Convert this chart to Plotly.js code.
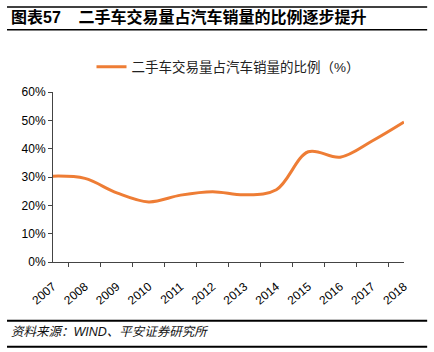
<!DOCTYPE html>
<html><head><meta charset="utf-8">
<script src="https://cdn.plot.ly/plotly-3.0.1.min.js"></script>
<style>html,body{margin:0;padding:0;background:#fff}#c{width:434px;height:352px}</style>
</head><body><div id="c"></div>
<script>
const years = ['2007','2008','2009','2010','2011','2012','2013','2014','2015','2016','2017','2018'];
const ratio = [30.3, 29.5, 24.4, 21.2, 23.6, 24.8, 23.7, 25.5, 38.9, 37.0, 42.7, 49.4];
const seriesName = '二手车交易量占汽车销量的比例（%）';
const chartTitle = '图表57\u00a0\u00a0\u00a0\u00a0二手车交易量占汽车销量的比例逐步提升';
const sourceText = '资料来源：WIND、平安证券研究所';

const font = '"Liberation Sans", Arial, "Noto Sans CJK SC", sans-serif';
const cjk = '"Liberation Sans", "Noto Sans CJK SC", sans-serif';

const data = [{
  type: 'scatter', mode: 'lines', x: years, y: ratio, name: seriesName,
  line: {color: '#EE7D35', width: 3, shape: 'spline', smoothing: 1}
}];

const layout = {
  width: 434, height: 352,
  margin: {l: 53, r: 30, t: 92, b: 90},
  paper_bgcolor: '#fff', plot_bgcolor: '#fff',
  font: {family: font, size: 12, color: '#000'},
  showlegend: true,
  legend: {orientation: 'h', x: 0.5, xanchor: 'center', y: 1.147, yanchor: 'middle',
           bgcolor: 'rgba(0,0,0,0)', font: {family: cjk, size: 13.5, color: '#222'}},
  xaxis: {
    type: 'category', showgrid: false, zeroline: false,
    showline: true, linecolor: '#444', linewidth: 1,
    ticks: 'outside', tickson: 'boundaries', ticklen: 4, tickcolor: '#444',
    tickangle: -40, ticklabelstandoff: 12, tickfont: {family: font, size: 12, color: '#000'}
  },
  yaxis: {
    range: [0, 60], dtick: 10, ticksuffix: '%', showgrid: false, zeroline: false,
    showline: true, linecolor: '#444', linewidth: 1,
    ticks: 'outside', ticklen: 4, tickcolor: '#444',
    tickfont: {family: font, size: 12, color: '#000'}
  },
  shapes: [
    {type: 'line', xref: 'paper', yref: 'paper', x0: -0.131, x1: 1.066, y0: 1.50, y1: 1.50, line: {color: '#000', width: 1.5}},
    {type: 'line', xref: 'paper', yref: 'paper', x0: -0.131, x1: 1.066, y0: 1.366, y1: 1.366, line: {color: '#000', width: 1.5}},
    {type: 'line', xref: 'paper', yref: 'paper', x0: -0.131, x1: 1.066, y0: -0.345, y1: -0.345, line: {color: '#000', width: 2}},
    {type: 'line', xref: 'paper', yref: 'paper', x0: -0.131, x1: 1.066, y0: -0.498, y1: -0.498, line: {color: '#000', width: 2}}
  ],
  annotations: [
    {text: '<b>' + chartTitle + '</b>', xref: 'paper', yref: 'paper', x: -0.125, y: 1.441, xanchor: 'left', yanchor: 'middle',
     showarrow: false, font: {family: cjk, size: 16, color: '#000'}},
    {text: '<i>' + sourceText + '</i>', xref: 'paper', yref: 'paper', x: -0.125, y: -0.41, xanchor: 'left', yanchor: 'middle',
     showarrow: false, font: {family: cjk, size: 12.5, color: '#111'}}
  ]
};
Plotly.newPlot('c', data, layout, {displayModeBar: false, staticPlot: true});
</script></body></html>
